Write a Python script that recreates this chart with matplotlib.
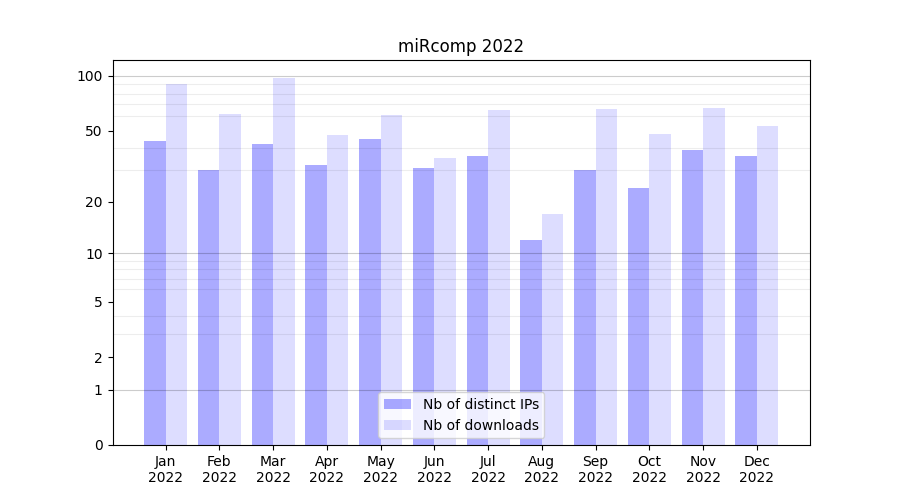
import numpy as np
import matplotlib
matplotlib.use("Agg")
import matplotlib.pyplot as plt

months = ["Jan", "Feb", "Mar", "Apr", "May", "Jun",
          "Jul", "Aug", "Sep", "Oct", "Nov", "Dec"]
year = "2022"
distinct_ips = [44, 30, 42, 32, 45, 31, 36, 12, 30, 24, 39, 36]
downloads = [90, 62, 97, 47, 61, 35, 65, 17, 66, 48, 67, 53]

y_ticks = [0, 1, 2, 5, 10, 20, 50, 100]
y_major_grid = [1, 10, 100]
y_minor_grid = [2, 3, 4, 5, 6, 7, 8, 9, 20, 30, 40, 50, 60, 70, 80, 90]


def fwd(v):
    return np.log10(1 + np.clip(v, -0.999, None))


def inv(v):
    return 10 ** v - 1


fig, ax = plt.subplots(figsize=(9, 5), dpi=100)
x = np.arange(len(months))
w = 0.4

ax.bar(x - w / 2, distinct_ips, w, color="blue", alpha=0.33, linewidth=0,
       label="Nb of distinct IPs")
ax.bar(x + w / 2, downloads, w, color="blue", alpha=0.135, linewidth=0,
       label="Nb of downloads")

ax.set_yscale("function", functions=(fwd, inv))
ax.set_yticks(y_ticks)
ax.set_yticklabels([str(t) for t in y_ticks])
ax.set_yticks(y_minor_grid, minor=True)
ax.tick_params(axis="y", which="minor", length=0)
ax.yaxis.grid(True, which="minor", color="black", alpha=0.07, linewidth=0.8)
for v in y_major_grid:
    ax.axhline(v, color="black", alpha=0.2, linewidth=0.8, zorder=1.5)

ax.set_xticks(x)
ax.set_xticklabels([f"{m}\n{year}" for m in months])
ax.set_title("miRcomp 2022")
ax.legend(loc="lower center")

fig.savefig("out.png")
